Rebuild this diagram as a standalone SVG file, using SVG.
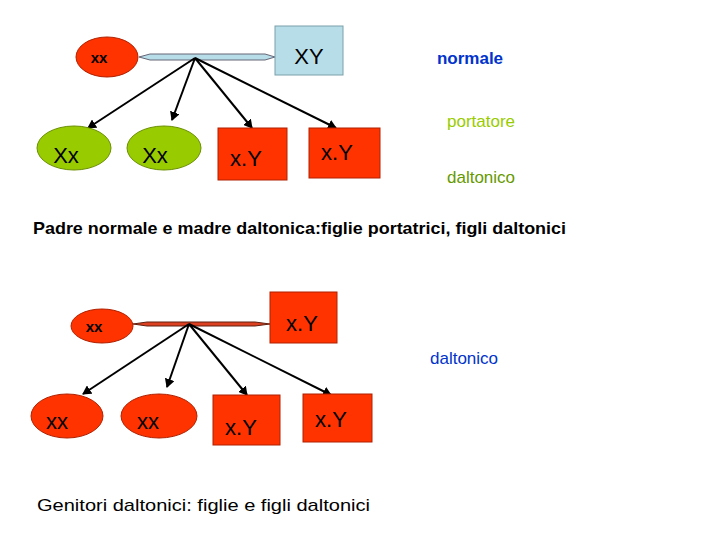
<svg xmlns="http://www.w3.org/2000/svg" width="720" height="540" viewBox="0 0 720 540">
<style>
text{font-family:"Liberation Sans",Arial,sans-serif}
.red{fill:#ff3300;stroke:#b02000;stroke-width:1}
.grn{fill:#99cc00;stroke:#6a8f00;stroke-width:1}
.blu{fill:#b7dde8;stroke:#7aa0aa;stroke-width:1}
.big{font-size:22px;text-anchor:middle}
.sm{font-size:15px;text-anchor:middle}
.ar{stroke:#000;stroke-width:2;fill:none;marker-end:url(#ah)}
</style>
<defs>
<marker id="ah" markerWidth="10" markerHeight="10" refX="8" refY="5" orient="auto" markerUnits="userSpaceOnUse"><path d="M0,0 L9,5 L0,10 Z" fill="#000"/></marker>
</defs>
<rect width="720" height="540" fill="#fff"/>
<g id="connectors">
<path d="M139,57 L150,54 L265,54 L275,57 L265,60 L150,60 Z" fill="#b7dde8" stroke="#667" stroke-width="1"/>
<path class="ar" d="M195,58 L88,128"/>
<path class="ar" d="M195,58 L172,120"/>
<path class="ar" d="M195,58 L252,128"/>
<path class="ar" d="M195,58 L336,128"/>
<path d="M133,324 L147,322 L255,322 L270,324 L255,326 L147,326 Z" fill="#dd4020" stroke="#602010" stroke-width="1"/>
<path class="ar" d="M189,324 L83,394"/>
<path class="ar" d="M189,324 L167,387"/>
<path class="ar" d="M189,324 L247,395"/>
<path class="ar" d="M189,324 L331,395"/>
</g>
<g id="n1"><ellipse class="red" cx="107" cy="57" rx="31" ry="20"/><text class="sm" x="99" y="63" font-weight="bold">xx</text></g>
<g id="n2"><rect class="blu" x="275" y="26" width="68" height="49"/><text class="big" x="309" y="64">XY</text></g>
<g id="n3"><ellipse class="grn" cx="74" cy="148" rx="37" ry="22"/><text class="big" x="66" y="163">Xx</text></g>
<g id="n4"><ellipse class="grn" cx="164" cy="148" rx="37" ry="22"/><text class="big" x="155" y="163">Xx</text></g>
<g id="n5"><rect class="red" x="218" y="128" width="69" height="52"/><text class="big" x="246" y="166">x.Y</text></g>
<g id="n6"><rect class="red" x="309" y="128" width="71" height="50"/><text class="big" x="337" y="160">x.Y</text></g>
<text x="470" y="64" font-size="17" font-weight="bold" fill="#0033cc" text-anchor="middle">normale</text>
<text x="481" y="127" font-size="17" fill="#99cc00" text-anchor="middle">portatore</text>
<text x="481" y="183" font-size="17" fill="#669900" text-anchor="middle">daltonico</text>
<text x="33" y="234" font-size="17" font-weight="bold" textLength="533" lengthAdjust="spacingAndGlyphs">Padre normale e madre daltonica:figlie portatrici, figli daltonici</text>
<g id="n7"><ellipse class="red" cx="102" cy="326" rx="31" ry="17"/><text class="sm" x="94" y="332" font-weight="bold">xx</text></g>
<g id="n8"><rect class="red" x="270" y="292" width="67" height="51"/><text class="big" x="302" y="331">x.Y</text></g>
<g id="n9"><ellipse class="red" cx="67" cy="416" rx="36" ry="22"/><text class="big" x="57" y="429">xx</text></g>
<g id="n10"><ellipse class="red" cx="159" cy="416" rx="38" ry="22"/><text class="big" x="148" y="429">xx</text></g>
<g id="n11"><rect class="red" x="213" y="395" width="67" height="50"/><text class="big" x="241" y="435">x.Y</text></g>
<g id="n12"><rect class="red" x="303" y="394" width="69" height="48"/><text class="big" x="331" y="427">x.Y</text></g>
<text x="464" y="364" font-size="17" fill="#0033cc" text-anchor="middle">daltonico</text>
<text x="37" y="511" font-size="17" textLength="333" lengthAdjust="spacingAndGlyphs">Genitori daltonici: figlie e figli daltonici</text>
</svg>
